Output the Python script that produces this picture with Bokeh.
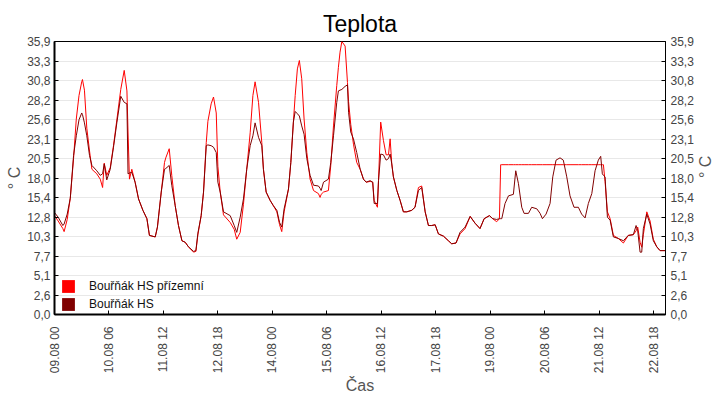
import math
import pandas as pd
from bokeh.plotting import figure
from bokeh.models import FixedTicker, LinearAxis, Legend, LegendItem, Range1d
from bokeh.embed import file_html
from bokeh.resources import INLINE

START = "2021-08-09 00:00"

HOURS = [0, 2, 4.6, 5.3, 7, 8.7, 10.5, 12, 13.5, 15, 15.4, 16.5, 17.8, 19.3, 20.6, 23.3,
         25.2, 26.5, 27.4, 28.8, 30.7, 32.5, 34.4, 36.5, 38.4, 39.9, 40.5, 41.3, 42.6, 44.4,
         46.3, 48.7, 50.9, 52.3, 55.5, 56.7, 58.8, 60.6, 61.3, 63.2, 64.6, 66.5, 68.3, 70.2,
         72, 73.8, 76.6, 77.9, 79, 80.8, 82.1, 83.6, 84.5, 86.3, 87.6, 89.1, 90, 91.3, 93.1,
         96.8, 99, 100.4, 102.3, 104.1, 105.9, 107.8, 109.3, 110.5, 112.4, 114.2, 115.1,
         116.6, 118.8, 120.6, 122.5, 124, 125.2, 126.5, 128.9, 130.2, 131.6, 132.6, 133.8,
         134.9, 136.2, 137.5, 139, 140.8, 142.7, 145.4, 146.3, 146.9, 148.2, 150.9, 152.2,
         153.7, 155.5, 156.4, 157.3, 158.3, 160.1, 161.4, 162, 163.2, 164.7, 166.5, 168.4,
         170.2, 171.7, 173.9, 175.3, 176.1, 177.9, 178.5, 179.7, 181.2, 182.7, 184, 184.9,
         185.8, 186.7, 188.6, 190.4, 192.2, 194.1, 196.8, 198.6, 200.5, 202.3, 204.2, 206,
         207.8, 209.7, 211.5, 214.3, 217, 218.8, 221.2, 223.4, 226.2, 229, 231.7, 234.4,
         236.7, 239.6, 241.4, 243.6, 245.1, 245.8, 246.4, 248.2, 250.1, 252.8, 254.1, 255.6,
         257.4, 258.7, 261.1, 262.9, 265.7, 267.5, 268.8, 270.8, 273, 274.5, 276.3, 278.5,
         280.3, 282.2, 284, 286.2, 288.6, 290.4, 292.3, 294.1, 296, 297.8, 299.6, 300.9,
         301.8, 302.4, 303.3, 304.6, 306.1, 307.9, 310.6, 313.4, 316.1, 318.9, 320.4, 321.3,
         322.6, 323.5, 324.4, 326.3, 328.1, 329.9, 331.8, 333.6, 336.3]

# Bouřňák HS (dark red)
HS = [13.4, 12.8, 11.7, 11.9, 13.2, 15.3, 20.9, 23.5, 25.6, 26.5, 26.3, 25.2, 23.5, 20.9, 19.6, 18.9,
      18.3, 18.5, 19.8, 17.7, 19.1, 22.0, 25.3, 28.7, 27.9, 27.7, 18.5, 18.6, 18.7, 17.4,
      15.2, 13.7, 12.6, 10.4, 10.2, 11.5, 16.1, 19.1, 19.2, 19.6, 17.0, 14.3, 11.7, 9.7,
      9.5, 8.9, 8.3, 8.4, 10.7, 13.0, 16.1, 22.2, 22.3, 22.2, 22.0, 21.3, 17.4, 16.1, 13.5,
      13.0, 11.7, 10.8, 12.8, 15.2, 19.1, 22.2, 23.5, 25.2, 23.3, 22.2, 19.1,
      16.1, 15.0, 14.3, 13.7, 12.1, 11.5, 13.9, 16.5, 20.0, 25.3, 26.7, 26.4,
      26.1, 24.8, 23.7, 20.5, 18.3, 17.0, 16.9, 16.6, 16.3, 17.4, 17.8, 20.0,
      23.5, 27.9, 29.4, 29.5, 29.6, 30.0, 30.2, 26.6, 24.0, 23.1, 21.3, 19.1,
      17.8, 17.4, 17.6, 17.4, 14.6, 14.6, 17.6, 21.1, 21.0, 20.3, 20.5, 21.1,
      19.8, 18.1, 16.3, 15.0, 13.5, 13.5, 13.7, 14.1, 16.3, 16.7, 13.5, 11.7,
      11.7, 11.8, 10.6, 10.3, 9.7, 9.3, 9.4, 10.8, 11.5, 12.9, 12.0, 11.3,
      12.6, 13.0, 12.6, 12.5, 12.6, 12.6, 12.6, 14.6, 15.6, 15.8, 18.9, 17.2,
      14.1, 13.3, 13.3, 14.1, 13.9, 13.3, 12.6, 13.2, 14.6, 18.1, 20.3, 20.6,
      20.3, 18.1, 15.6, 14.1, 14.1, 13.2, 12.7, 14.6, 15.9, 18.9, 20.3, 20.8,
      18.5, 18.3, 18.1, 12.8, 12.4, 10.2, 10.0, 9.7, 10.4, 10.5, 11.7, 11.0,
      8.2, 8.2, 11.3, 13.2, 11.9, 9.7, 8.9, 8.4, 8.4]

# Bouřňák HS přízemní (red)
HS_PRIZEMNI = [13.0, 12.3, 11.3, 10.9, 12.5, 15.3, 20.5, 25.7, 28.8, 30.6, 30.9, 29.5, 24.5, 21.5, 19.1, 18.5,
               17.8, 16.7, 19.9, 18.3, 19.3, 22.2, 25.7, 29.6, 32.1, 29.4, 24.0, 17.8, 19.1, 17.4,
               15.2, 13.7, 12.6, 10.4, 10.2, 11.5, 16.1, 20.0, 20.6, 21.8, 18.3, 14.3, 11.7, 9.7,
               9.5, 8.9, 8.2, 8.3, 10.5, 13.0, 16.1, 22.6, 25.4, 27.7, 28.6, 26.5, 19.5, 16.1, 13.1,
               12.1, 11.2, 9.9, 10.8, 14.5, 19.1, 23.9, 28.8, 30.6, 27.9, 22.6, 19.1,
               16.1, 15.0, 14.3, 13.5, 11.8, 10.9, 13.5, 16.5, 20.0, 25.3, 28.8, 32.3,
               33.4, 31.0, 25.7, 21.3, 17.8, 16.3, 15.9, 15.4, 15.8, 16.1, 16.3, 19.6,
               24.8, 30.1, 32.5, 34.5, 35.9, 35.3, 30.5, 28.0, 25.0, 22.4, 20.0, 19.1,
               17.8, 17.4, 17.5, 17.4, 15.0, 14.1, 17.6, 25.3, 22.9, 21.0, 21.0, 23.1,
               19.8, 18.1, 16.3, 15.0, 13.5, 13.5, 13.7, 14.1, 16.7, 16.9, 13.5, 11.7,
               11.7, 11.8, 10.6, 10.3, 9.7, 9.3, 9.4, 10.6, 11.3, 12.9, 12.0, 11.3,
               12.6, 13.0, 12.6, 12.2, 12.6, 19.7, 19.7, 19.7, 19.7, 19.7, 19.7, 19.7,
               19.7, 19.7, 19.7, 19.7, 19.7, 19.7, 19.7, 19.7, 19.7, 19.7, 19.7, 19.7,
               19.7, 19.7, 19.7, 19.7, 19.7, 19.7, 19.7, 19.7, 19.7, 19.7, 19.7, 19.7,
               19.7, 19.7, 17.5, 13.5, 12.6, 10.4, 10.0, 9.4, 10.4, 10.5, 11.0, 11.5,
               9.5, 8.85, 10.5, 13.5, 12.3, 9.9, 8.9, 8.4, 8.4]

Y_MAX = 35.9
Y_TICK_LABELS = ["0,0", "2,6", "5,1", "7,7", "10,3", "12,8", "15,4", "18,0",
                 "20,5", "23,1", "25,6", "28,2", "30,8", "33,3", "35,9"]
X_TICK_HOURS = [0, 30, 60, 90, 120, 150, 180, 210, 240, 270, 300, 330]
X_TICK_LABELS = ["09.08 00", "10.08 06", "11.08 12", "12.08 18", "14.08 00", "15.08 06",
                 "16.08 12", "17.08 18", "19.08 00", "20.08 06", "21.08 12", "22.08 18"]
X_END_HOURS = 336.6
SERIES_NAMES = ["Bouřňák HS přízemní", "Bouřňák HS"]
SERIES_COLORS = ["#ff0000", "#800000"]
TITLE = "Teplota"
Y_LABEL = "° C"
X_LABEL = "Čas"

assert len(HOURS) == len(HS) == len(HS_PRIZEMNI), (len(HOURS), len(HS), len(HS_PRIZEMNI))

t0 = pd.Timestamp(START)


def ms(h):
    return (t0 + pd.Timedelta(hours=h)).value // 10**6


times = pd.to_datetime([t0 + pd.Timedelta(hours=h) for h in HOURS])

FONT = "Liberation Sans"
FW, FH = 611, 273

p = figure(width=None, height=None, frame_width=FW, frame_height=FH,
           x_axis_type="datetime",
           x_range=Range1d(ms(0), ms(X_END_HOURS)), y_range=Range1d(0, Y_MAX),
           output_backend="svg", toolbar_location=None, title=TITLE,
           min_border_left=54, min_border_right=54, min_border_top=41, min_border_bottom=80)

p.background_fill_color = "white"
p.border_fill_color = "white"
p.outline_line_color = "black"
p.outline_line_width = 1

p.title.text_font = FONT
p.title.text_font_size = "23px"
p.title.text_font_style = "normal"
p.title.text_color = "black"
p.title.align = "center"
p.title.standoff = 9

# lines
p.line(times, HS_PRIZEMNI, line_color=SERIES_COLORS[0], line_width=1)
p.line(times, HS, line_color=SERIES_COLORS[1], line_width=1)

# axes
y_positions = [k * Y_MAX / (len(Y_TICK_LABELS) - 1) for k in range(len(Y_TICK_LABELS))]
yticker = FixedTicker(ticks=y_positions)
y_over = {y: lbl for y, lbl in zip(y_positions, Y_TICK_LABELS)}

x_positions = [ms(h) for h in X_TICK_HOURS]
xticker = FixedTicker(ticks=x_positions)
x_over = {x: lbl for x, lbl in zip(x_positions, X_TICK_LABELS)}

right_axis = LinearAxis()
p.add_layout(right_axis, "right")


def style_axis(ax, line_width):
    ax.major_label_text_font = FONT
    ax.major_label_text_font_size = "12px"
    ax.major_label_text_color = "#444444"
    ax.axis_label_text_font = FONT
    ax.axis_label_text_font_size = "16px"
    ax.axis_label_text_font_style = "normal"
    ax.axis_label_text_color = "#555555"
    ax.axis_label_text_line_height = 1.0
    ax.major_tick_in = 4
    ax.major_tick_out = 0
    ax.minor_tick_line_color = None
    ax.major_tick_line_color = "black"
    ax.axis_line_color = "black"
    ax.axis_line_width = line_width


style_axis(p.yaxis[0], 2)
style_axis(right_axis, 1)
for ax in [p.yaxis[0], right_axis]:
    ax.ticker = yticker
    ax.major_label_overrides = y_over
    ax.axis_label = Y_LABEL

p.yaxis[0].major_label_standoff = 4
p.yaxis[0].axis_label_standoff = 1
right_axis.major_label_standoff = 5
right_axis.axis_label_standoff = 9
right_axis.axis_label_orientation = math.pi / 2

xa = p.xaxis[0]
style_axis(xa, 2)
xa.ticker = xticker
xa.major_label_overrides = x_over
xa.major_label_orientation = math.pi / 2
xa.major_label_standoff = 12
xa.axis_label = X_LABEL
xa.axis_label_standoff = 1

p.xgrid.visible = False
p.ygrid.ticker = yticker
p.ygrid.grid_line_color = "#e8e8e8"
p.ygrid.grid_line_width = 1

# legend swatches (glyphs carry no visible data, they only give the legend its colour boxes)
nan = float("nan")
sw1 = p.quad(left=[nan], right=[nan], top=[nan], bottom=[nan],
             fill_color=SERIES_COLORS[0], line_color=None)
sw2 = p.quad(left=[nan], right=[nan], top=[nan], bottom=[nan],
             fill_color=SERIES_COLORS[1], line_color=None)
legend = Legend(items=[LegendItem(label=SERIES_NAMES[0], renderers=[sw1]),
                       LegendItem(label=SERIES_NAMES[1], renderers=[sw2])],
                location=(6, 2), glyph_width=16, glyph_height=16, label_height=16,
                label_width=20, spacing=2, padding=0, margin=0, label_standoff=13,
                background_fill_alpha=0, border_line_alpha=0,
                label_text_font=FONT, label_text_font_size="12px", label_text_color="#111111")
p.add_layout(legend)

open("out.html", "w").write(file_html(p, INLINE))
